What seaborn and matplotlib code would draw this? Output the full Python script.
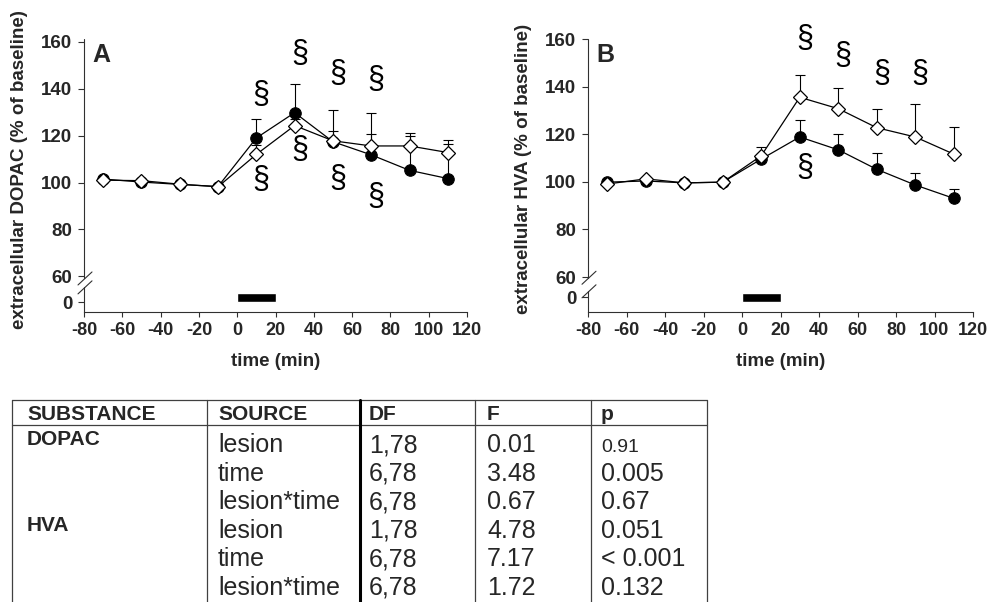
import matplotlib
matplotlib.use("Agg")
import matplotlib.pyplot as plt
import numpy as np
import pandas as pd
import seaborn as sns

# ---------------- data ----------------
time = [-70, -50, -30, -10, 10, 30, 50, 70, 90, 110]

dopac_filled = [101.5, 100.2, 99.2, 98.3, 119.0, 129.8, 117.4, 111.8, 105.2, 101.7]
dopac_filled_err = [0, 0, 0, 0, 7.9, 12.2, 4.6, 9.1, 16.0, 14.9]
dopac_open = [101.0, 100.8, 99.3, 98.2, 112.0, 124.3, 117.8, 115.6, 115.6, 112.8]
dopac_open_err = [0, 0, 0, 0, 4.0, 3.0, 13.0, 14.0, 4.3, 5.5]

hva_filled = [99.9, 100.4, 99.6, 99.9, 109.6, 118.9, 113.5, 105.3, 98.7, 93.1]
hva_filled_err = [0, 0, 0, 0, 2.0, 7.3, 6.6, 6.7, 5.1, 3.8]
hva_open = [99.1, 101.3, 99.6, 99.9, 111.0, 135.6, 130.8, 122.8, 118.9, 111.7]
hva_open_err = [0, 0, 0, 0, 3.8, 9.2, 8.6, 8.0, 13.9, 11.5]

# significance marks (time, level)
sig_a_above_t = [10, 30, 50, 70]
sig_a_above_y = [137.3, 155.0, 146.2, 143.7]
sig_a_below_t = [10, 30, 50, 70]
sig_a_below_y = [101.0, 113.8, 101.3, 93.9]
sig_b_above_t = [30, 50, 70, 90]
sig_b_above_y = [160.0, 153.0, 145.2, 145.2]
sig_b_below_t = [30]
sig_b_below_y = [105.8]

infusion_start = 0
infusion_end = 20

xticks = [-80, -60, -40, -20, 0, 20, 40, 60, 80, 100, 120]
yticks_upper = [60, 80, 100, 120, 140, 160]

# table
tab_header = ["SUBSTANCE", "SOURCE", "DF", "F", "p"]
tab_substance = ["DOPAC", "", "", "HVA", "", ""]
tab_source = ["lesion", "time", "lesion*time", "lesion", "time", "lesion*time"]
tab_df = ["1,78", "6,78", "6,78", "1,78", "6,78", "6,78"]
tab_f = ["0.01", "3.48", "0.67", "4.78", "7.17", "1.72"]
tab_p = ["0.91", "0.005", "0.67", "0.051", "< 0.001", "0.132"]

# ---------------- style ----------------
sns.set_style("white")
plt.rcParams["font.family"] = ["Liberation Sans", "DejaVu Sans"]

W, H = 990, 602
fig = plt.figure(figsize=(W / 100, H / 100), dpi=100)


def px_axes(left, top, right, bottom):
    return fig.add_axes([left / W, 1 - bottom / H, (right - left) / W, (bottom - top) / H])


panels = [
    dict(rect=(84, 39, 467, 312), ylim=(44.8, 161.2), zero=49.0, bar=(49.0, 52.8),
         brk=(59.1, 55.3), letter="A", filled=dopac_filled, ferr=dopac_filled_err,
         opn=dopac_open, oerr=dopac_open_err,
         sig=[(sig_a_above_t, sig_a_above_y), (sig_a_below_t, sig_a_below_y)],
         ylabel="extracellular DOPAC (% of baseline)", ylab_x=19.5, ylab_y=170),
    dict(rect=(588, 39, 973, 312), ylim=(45.3, 160.1), zero=51.6, bar=(49.5, 53.3),
         brk=(59.7, 54.0), letter="B", filled=hva_filled, ferr=hva_filled_err,
         opn=hva_open, oerr=hva_open_err,
         sig=[(sig_b_above_t, sig_b_above_y), (sig_b_below_t, sig_b_below_y)],
         ylabel="extracellular HVA (% of baseline)", ylab_x=524, ylab_y=169),
]

axcol = "#303030"
for p in panels:
    l, t, r, b = p["rect"]
    ax = px_axes(l, t, r, b)
    ax.set_xlim(-80, 120)
    ax.set_ylim(*p["ylim"])

    # error bars (upper only)
    ax.errorbar(time, p["filled"], yerr=[np.zeros(len(time)), p["ferr"]], fmt="none",
                ecolor="black", elinewidth=0.8, capsize=3.8, capthick=0.8, zorder=2)
    ax.errorbar(time, p["opn"], yerr=[np.zeros(len(time)), p["oerr"]], fmt="none",
                ecolor="black", elinewidth=0.8, capsize=3.8, capthick=0.8, zorder=2)

    sns.lineplot(x=time, y=p["filled"], ax=ax, color="black", linewidth=0.9,
                 marker="o", markersize=8.3, markerfacecolor="black",
                 markeredgecolor="black", zorder=3)
    sns.lineplot(x=time, y=p["opn"], ax=ax, color="black", linewidth=0.9,
                 marker="D", markersize=7.0, markerfacecolor="white",
                 markeredgecolor="black", markeredgewidth=0.9, zorder=4)

    # infusion bar
    ax.bar([infusion_start], [p["bar"][1] - p["bar"][0]], width=infusion_end - infusion_start,
           bottom=p["bar"][0], align="edge", color="black", zorder=3)

    # significance marks
    for ts, ys in p["sig"]:
        for tt, yy in zip(ts, ys):
            ax.text(tt + 2.5, yy, "\u00a7", ha="center", va="center", fontsize=22,
                    color="black", zorder=5)

    ax.text(0.021, 0.941, p["letter"], transform=ax.transAxes, ha="left", va="center",
            fontsize=18, fontweight="bold")

    # spines & broken axis
    for s in ["top", "right", "left"]:
        ax.spines[s].set_visible(False)
    ax.spines["bottom"].set_color(axcol)
    ax.spines["bottom"].set_linewidth(0.8)
    tr = ax.get_yaxis_transform()
    ax.plot([0, 0], [p["brk"][0], p["ylim"][1]], transform=tr, color=axcol, lw=0.8,
            clip_on=False)
    ax.plot([0, 0], [p["ylim"][0], p["brk"][1]], transform=tr, color=axcol, lw=0.8,
            clip_on=False)
    dx1, dx2 = 6 / (r - l), 8 / (r - l)
    dy = 6.5 / ((b - t) / (p["ylim"][1] - p["ylim"][0]))
    for yb in p["brk"]:
        ax.plot([-dx1, dx2], [yb - dy, yb + dy], transform=tr, color=axcol, lw=0.8,
                clip_on=False)

    ax.set_xticks(xticks)
    ax.set_xticklabels([str(v) for v in xticks])
    ax.set_yticks([p["zero"]] + yticks_upper)
    ax.set_yticklabels(["0"] + [str(v) for v in yticks_upper])
    ax.tick_params(axis="x", direction="out", length=3.5, width=0.8, color=axcol,
                   labelsize=13, pad=4, bottom=True)
    ax.tick_params(axis="y", direction="out", length=4.5, width=0.8, color=axcol,
                   labelsize=13.5, pad=4, left=True)
    for lab in ax.get_xticklabels() + ax.get_yticklabels():
        lab.set_fontweight("bold")
    ax.set_xlabel("")
    ax.set_ylabel("")
    ax.grid(False)

    fig.text(p["ylab_x"] / W, 1 - p["ylab_y"] / H, p["ylabel"], rotation=90,
             ha="center", va="center", fontsize=13.5, fontweight="bold")
    fig.text(((l + r) / 2) / W, 1 - 362 / H, "time (min)", ha="center", va="center",
             fontsize=13.5, fontweight="bold")

# ---------------- table ----------------
tax = fig.add_axes([0, 0, 1, 1], zorder=-1)
tax.set_xlim(0, W)
tax.set_ylim(H, 0)
tax.axis("off")

t_left, t_right, t_top, t_head, t_bot = 12, 707, 400, 425, 602
col_lines = [12, 207, 475, 591, 707]
thick_line = 360
tcol = "#404040"
tax.plot([t_left, t_right], [t_top, t_top], color=tcol, lw=0.9)
tax.plot([t_left, t_right], [t_head, t_head], color=tcol, lw=0.9)
for cx in col_lines:
    tax.plot([cx, cx], [t_top, t_bot], color=tcol, lw=0.9)
tax.plot([thick_line, thick_line], [t_top, t_bot], color="black", lw=2.2)

col_x = [27, 218, 369, 487, 601]
for cx, h in zip(col_x, tab_header):
    tax.text(cx, 420, h, ha="left", va="baseline", fontsize=15, fontweight="bold")

row_step = 28.6
for i in range(len(tab_source)):
    base = 452 + i * row_step
    if tab_substance[i]:
        tax.text(col_x[0], base - 7, tab_substance[i], ha="left", va="baseline",
                 fontsize=15, fontweight="bold")
    tax.text(col_x[1], base, tab_source[i], ha="left", va="baseline", fontsize=18)
    tax.text(col_x[2], base, tab_df[i], ha="left", va="baseline", fontsize=18)
    tax.text(col_x[3], base, tab_f[i], ha="left", va="baseline", fontsize=18)
    tax.text(col_x[4], base, tab_p[i], ha="left", va="baseline",
             fontsize=14 if i == 0 else 18)

fig.savefig("out.png", dpi=100)
